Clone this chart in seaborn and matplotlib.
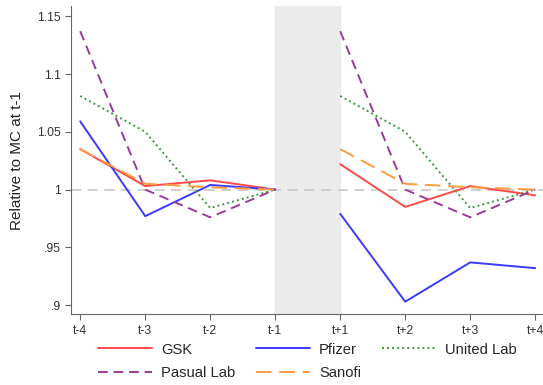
import numpy as np
import pandas as pd
import seaborn as sns
import matplotlib.pyplot as plt
from matplotlib.lines import Line2D

# event time labels, gap between t-1 and t+1 is shaded
periods = ["t-4", "t-3", "t-2", "t-1", "t+1", "t+2", "t+3", "t+4"]
firms = ["GSK", "Pfizer", "United Lab", "Pasual Lab", "Sanofi"]

gsk = [1.035, 1.003, 1.008, 1.000, 1.022, 0.985, 1.003, 0.995]
pfizer = [1.059, 0.977, 1.004, 1.000, 0.979, 0.903, 0.937, 0.932]
united = [1.081, 1.050, 0.984, 1.000, 1.081, 1.050, 0.984, 1.000]
pasual = [1.137, 1.000, 0.976, 1.000, 1.137, 1.000, 0.976, 1.000]
sanofi = [1.035, 1.005, 1.002, 1.000, 1.035, 1.005, 1.002, 1.000]

rows = []
for firm, vals in zip(firms, [gsk, pfizer, united, pasual, sanofi]):
    for i, v in enumerate(vals):
        rows.append({"firm": firm, "pos": i, "val": v, "seg": "pre" if i < 4 else "post"})
df = pd.DataFrame(rows)

colors = {"GSK": "#ff4a4a", "Pfizer": "#3a3aff", "United Lab": "#3a9a3a",
          "Pasual Lab": "#9a3a9a", "Sanofi": "#ff9a40"}
dashes = {"GSK": "", "Pfizer": "", "United Lab": (1, 1.6),
          "Pasual Lab": (5, 3), "Sanofi": (8, 4)}

sns.set_style("white")
plt.rcParams["font.family"] = ["Liberation Sans", "DejaVu Sans"]

fig = plt.figure(figsize=(5.43, 3.85), dpi=100)
ax = fig.add_axes([0.131, 0.184, 0.869, 0.8])

ax.axvspan(3, 4, color="#ebebeb", zorder=0)
ax.axhline(1, color="#c8c8c8", lw=1.2, ls=(0, (6, 4)), zorder=1)

sns.lineplot(data=df, x="pos", y="val", hue="firm", style="firm", units="seg",
             estimator=None, palette=colors, dashes=dashes, lw=1.4,
             legend=False, ax=ax, zorder=3)

ax.set_xlim(-0.14, 7.12)
ax.set_ylim(0.8922, 1.1587)
ax.set_xticks(range(8))
ax.set_xticklabels(periods)
ax.set_yticks([0.9, 0.95, 1.0, 1.05, 1.1, 1.15])
ax.set_yticklabels([".9", ".95", "1", "1.05", "1.1", "1.15"])
ax.set_xlabel("")
ax.set_ylabel("Relative to MC at t-1", fontsize=11, color="#222222", labelpad=9)
ax.tick_params(axis="both", length=4, width=0.8, color="#666666",
               labelsize=8.8, labelcolor="#333333", bottom=True, left=True)
for s in ["top", "right"]:
    ax.spines[s].set_visible(False)
for s in ["left", "bottom"]:
    ax.spines[s].set_color("#666666")
    ax.spines[s].set_linewidth(0.8)

handles = [Line2D([], [], color=colors[f], lw=1.4,
                  ls="-" if dashes[f] == "" else (0, dashes[f])) for f in firms]
order = [0, 3, 1, 4, 2]
fig.legend([handles[i] for i in order], [firms[i] for i in order],
           loc="lower center", bbox_to_anchor=(0.566, -0.022), ncol=3,
           frameon=False, fontsize=10.6, handlelength=3.7, columnspacing=1.4,
           handletextpad=0.6, labelspacing=0.65)

fig.savefig("out.png", dpi=100)
